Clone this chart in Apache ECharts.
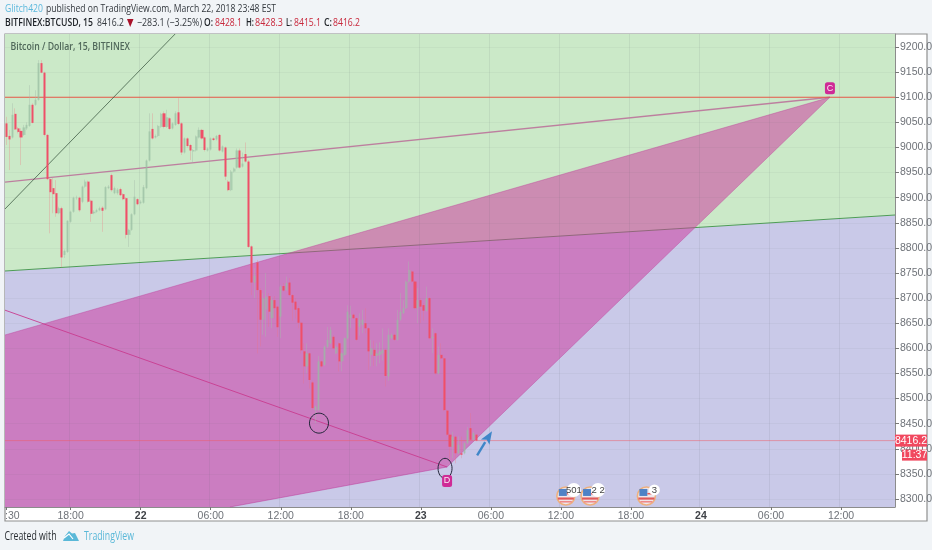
<!DOCTYPE html>
<html><head><meta charset="utf-8">
<style>html,body{margin:0;padding:0;background:#f1f4f7}#c{width:932px;height:550px}</style>
<script src="https://cdn.jsdelivr.net/npm/echarts@6/dist/echarts.min.js"></script>
</head><body><div id="c"></div>
<script>
const opens=[9048,9023,9020,9067,9038,9033,9025,9038,9043,9085,9085,9095,9168,9149,9025,8937,8919,8909,8869,8879,8786,8792,8852,8872,8899,8900,8892,8922,8932,8894,8869,8872,8875,8880,8877,8919,8945,8909,8909,8917,8907,8899,8826,8836,8867,8897,8889,8890,8919,8974,9037,9020,9023,9041,9068,9041,9058,9038,9045,9070,9048,8990,9018,9005,8992,8994,9020,9035,9020,8994,8996,9018,9016,9025,8992,9000,8932,8915,8952,8960,8994,8962,8987,8972,8803,8731,8771,8716,8657,8677,8704,8660,8696,8683,8663,8724,8716,8731,8706,8693,8680,8651,8594,8564,8590,8532,8477,8477,8574,8567,8603,8610,8623,8590,8610,8574,8587,8620,8660,8667,8660,8643,8647,8650,8640,8587,8597,8585,8587,8590,8597,8544,8620,8627,8617,8657,8670,8680,8733,8753,8733,8680,8696,8686,8675,8700,8620,8630,8550,8587,8580,8476,8428,8404,8424,8391,8391,8391,8411,8441,8418,8428.1];
const closes=[9021,9016,9065,9036,9031,9020,9040,9045,9085,9049,9095,9168,9149,9025,8937,8911,8907,8869,8879,8781,8794,8854,8872,8900,8900,8875,8922,8932,8892,8868,8872,8875,8879,8874,8921,8922,8915,8919,8916,8905,8897,8826,8836,8867,8902,8887,8892,8921,8974,9032,9018,9023,9043,9067,9041,9060,9037,9048,9068,9047,8990,9018,9003,8994,8995,9022,9035,9018,8995,8998,9018,9015,9023,8994,9002,8942,8915,8952,8958,8994,8960,8968,8972,8802,8731,8745,8716,8657,8700,8703,8673,8696,8680,8642,8723,8715,8730,8706,8691,8677,8651,8596,8564,8590,8537,8481,8484,8574,8564,8603,8617,8637,8600,8603,8574,8590,8620,8673,8667,8660,8617,8657,8657,8640,8594,8600,8585,8590,8594,8597,8545,8627,8627,8617,8657,8673,8680,8733,8756,8733,8680,8696,8683,8675,8700,8620,8623,8550,8587,8580,8477,8428,8404,8424,8391,8408,8388,8411,8437,8418,8431,8416.2];
const highs=[9061,9035,9088,9078,9041,9038,9045,9050,9124,9088,9114,9174,9174,9151,9027,8939,8939,8935,8882,8882,8797,8855,8874,8902,8904,8902,8924,8936,8934,8896,8875,8878,8882,8883,8923,8925,8948,8922,8919,8920,8909,8901,8838,8869,8935,8899,8895,8925,8976,9068,9068,9026,9045,9069,9072,9075,9060,9050,9072,9098,9050,9020,9020,9007,8997,9024,9040,9037,9022,9000,9020,9020,9025,9027,9004,9002,8935,8955,8960,8998,8998,8990,9010,8975,8805,8760,8776,8720,8710,8750,8710,8702,8704,8685,8726,8730,8743,8740,8708,8700,8684,8653,8610,8610,8592,8535,8486,8585,8576,8606,8643,8643,8626,8606,8612,8592,8622,8686,8685,8669,8662,8670,8677,8680,8642,8617,8615,8610,8612,8640,8599,8640,8630,8629,8677,8710,8696,8735,8773,8755,8735,8720,8700,8690,8723,8702,8640,8632,8604,8610,8582,8478,8430,8434,8426,8425,8424,8413,8444,8471,8434,8428.3];
const lows=[9005,8955,9018,9035,9028,8965,9023,9035,9041,9048,9083,9093,9148,9022,8935,8829,8869,8862,8867,8761,8780,8790,8850,8870,8896,8872,8889,8920,8890,8852,8867,8870,8873,8832,8875,8917,8912,8907,8906,8903,8895,8819,8802,8834,8865,8885,8887,8888,8917,8972,9016,9018,9021,9039,9038,9039,9035,9036,9043,9045,8985,8988,9000,8975,8970,8992,9018,9016,8992,8992,8994,9013,9014,8992,8990,8935,8913,8913,8950,8958,8958,8960,8970,8800,8706,8700,8590,8604,8627,8623,8643,8640,8660,8623,8620,8713,8714,8704,8655,8660,8640,8590,8530,8550,8520,8478,8451,8475,8562,8565,8600,8608,8598,8588,8554,8554,8585,8618,8640,8658,8615,8625,8630,8630,8557,8564,8565,8564,8570,8575,8524,8535,8618,8615,8615,8655,8668,8678,8731,8731,8678,8650,8650,8655,8673,8618,8590,8548,8548,8578,8475,8426,8378,8381,8371,8389,8381,8389,8409,8416,8416,8415.1];

const barCount=305;
const priceTicks=[8300,8350,8400,8450,8500,8550,8600,8650,8700,8750,8800,8850,8900,8950,9000,9050,9100,9150,9200];
const priceMin=8284, priceMax=9226;
const xL=-0.5, xR=barCount-0.5;
const lastPrice=8416.2;

const greenZone=[[xL,priceMax],[xR,priceMax],[xR,8865.5],[xL,8754]];
const blueZone=[[xL,8754],[xR,8865.5],[xR,priceMin],[xL,priceMin]];
const pointC=[282.2,9100];
const pointD=[151,8363.7];
const patternZone=[pointC,pointD,[76.6,priceMin],[xL,priceMin],[xL,8626.6]];
const greenLine=[[xL,8754],[xR,8865.5]];
const redLine=[[xL,9100],[xR,9100]];
const mauveLine=[[xL,8931],pointC];
const blackLine=[[xL,8877.5],[57.8,priceMax]];
const xbLine=[[xL,8676],pointD];
const edgeTop=[[xL,8626.6],pointC];
const edgeRight=[pointC,pointD];
const edgeBottom=[pointD,[76.6,priceMin]];
const lastLine=[[xL,lastPrice],[xR,lastPrice]];
const circles=[[107.1,8451,9.5,10],[150.3,8361,7,10]];
const arrowFrom=[161.3,8387];
const arrowTo=[166.4,8435];
const events=[[191.7,8306,'501'],[200,8306,'2 2'],[219.3,8306,'3']];

const categories=[];
for(let i=0;i<barCount;i++){
  const m=(12*60+30+15*i);
  const dayOff=Math.floor(m/1440), mm=m%1440;
  const hh=Math.floor(mm/60), mi=mm%60;
  categories.push(mm===0?String(21+dayOff):String(hh).padStart(2,'0')+':'+String(mi).padStart(2,'0'));
}
const isTick=i=>(i%24)===22;

const candles=opens.map((o,i)=>[o,closes[i],lows[i],highs[i]]);
const bodies=opens.map((o,i)=>[o,closes[i],Math.min(o,closes[i]),Math.max(o,closes[i])]);

function lineSeries(pts,color,width,z){
  return {type:'line',xAxisIndex:1,data:pts,symbol:'none',silent:true,z:z||4,
    lineStyle:{color:color,width:width},animation:false};
}
function zone(pts,fill,z){
  return {type:'custom',xAxisIndex:1,data:[[0]],silent:true,z:z,
    renderItem:function(p,api){
      return {type:'polygon',shape:{points:pts.map(q=>api.coord(q))},style:{fill:fill}};
    }};
}
const chart=echarts.init(document.getElementById('c'),null,{renderer:'canvas',width:932,height:550});
const hdr='"Open Sans",sans-serif';
const narrow='"Liberation Sans Narrow","Liberation Sans",sans-serif';
const mctx=document.createElement('canvas').getContext('2d');
function txt(x,y,t,fill,size,weight,w){
  const font=(weight||'normal')+' '+size+'px '+hdr;
  mctx.font=font;
  const sx=w/mctx.measureText(t).width;
  return {type:'text',x:x,y:y,scaleX:sx,z:20,silent:true,style:{text:t,fill:fill,font:font,textVerticalAlign:'middle'}};
}
const RED='#c8283c', INK='#33383e', BOLD='#1d2126';
chart.setOption({
  animation:false,
  backgroundColor:'#f1f4f7',
  grid:{left:5,top:34,width:890,height:473,containLabel:false,outerBoundsMode:'none'},
  xAxis:[{type:'category',data:categories,boundaryGap:true,z:3,
      axisLine:{show:true,lineStyle:{color:'#8c8c8c',width:1}},
      axisTick:{show:true,length:3,interval:(i)=>isTick(i)||i===0,lineStyle:{color:'#777'},alignWithLabel:true},
      axisLabel:{color:'#6e7278',fontSize:10.5,fontFamily:narrow,margin:4,
        interval:(i)=>isTick(i)||i===2,
        formatter:(v,i)=>i===2?':30':(v.indexOf(':')<0?'{d|'+v+'}':v),
        rich:{d:{fontWeight:'bold',color:'#3f4247',fontSize:10.5,fontFamily:narrow}}},
      splitLine:{show:true,interval:(i)=>isTick(i),lineStyle:{color:'rgba(90,100,110,0.1)',width:1}}},
    {type:'value',min:xL,max:xR,show:false}],
  yAxis:{type:'value',position:'right',min:priceMin,max:priceMax,z:3,
    axisLine:{show:true,onZero:false,lineStyle:{color:'#8c8c8c',width:1}},
    axisTick:{show:true,length:4,customValues:priceTicks,lineStyle:{color:'#777'}},
    axisLabel:{color:'#6e7278',fontSize:10.5,fontFamily:narrow,margin:5,customValues:priceTicks,
      formatter:v=>v.toFixed(1)},
    splitLine:{show:true,lineStyle:{color:'rgba(90,100,110,0.06)',width:1}}},
  graphic:{elements:[
    {type:'rect',z:-10,silent:true,shape:{x:5,y:34,width:922,height:487},style:{fill:'#fff',stroke:'#8f8f8f',lineWidth:1.2}},
    txt(5,9,'Glitch420','#5cb9dc',11.5,'normal',38),
    txt(46,9,'published on TradingView.com, March 22, 2018 23:48 EST',INK,11.5,'normal',230),
    txt(5,23,'BITFINEX:BTCUSD, 15',BOLD,11,'600',88),
    txt(97,23,'8416.2',INK,11,'normal',27),
    {type:'polygon',z:20,silent:true,shape:{points:[[127,19],[133.5,19],[130.2,27]]},style:{fill:'#a9122a'}},
    txt(137,23,'\u2212283.1 (\u22123.25%)',INK,11,'normal',65),
    txt(204,23,'O:',BOLD,11,'600',9),txt(215,23,'8428.1',RED,11,'normal',27),
    txt(246,23,'H:',BOLD,11,'600',8),txt(255,23,'8428.3',RED,11,'normal',28),
    txt(286,23,'L:',BOLD,11,'600',6),txt(294,23,'8415.1',RED,11,'normal',27),
    txt(324,23,'C:',BOLD,11,'600',8),txt(333,23,'8416.2',RED,11,'normal',27),
    txt(10.5,47,'Bitcoin / Dollar, 15, BITFINEX','#50685a',11,'600',119.5),
    txt(4.5,537,'Created with','#2a2e33',12,'normal',52),
    {type:'polygon',z:20,silent:true,shape:{points:[[63,541],[65,536],[69,531],[72,533.5],[75,533],[79,541]]},style:{fill:'#5ab8d8'}},
    {type:'polyline',z:21,silent:true,shape:{points:[[64,538],[69,534],[73,539]]},style:{stroke:'#fff',fill:null,lineWidth:1.2}},
    txt(84,537,'TradingView','#5ab8d8',12,'normal',50)
  ]},
  series:[
    zone(greenZone,'#cbe9c8',1),
    zone(blueZone,'#c9c9e8',1),
    lineSeries(greenLine,'#4d9d55',1,1),
    zone(patternZone,'rgba(205,55,158,0.52)',2),
    {type:'candlestick',data:candles,barWidth:1,z:4,silent:true,
      itemStyle:{color:'rgba(150,185,160,0.2)',color0:'rgba(245,90,110,0.2)',borderColor:'rgba(165,185,170,0.4)',borderColor0:'rgba(245,110,125,0.28)',borderWidth:1}},
    lineSeries(mauveLine,'#bd7f9f',1.3),
    lineSeries(redLine,'#e85a48',1.1),
    lineSeries(blackLine,'#2e4a35',0.7),
    lineSeries(xbLine,'#c83c90',0.9),
    lineSeries(edgeTop,'rgba(188,60,150,0.5)',0.8),
    lineSeries(edgeRight,'rgba(188,60,150,0.5)',0.8),
    lineSeries(edgeBottom,'rgba(188,50,150,0.6)',0.8),
    lineSeries(lastLine,'rgba(240,90,100,0.5)',1),
    {type:'candlestick',data:bodies,barWidth:2.6,z:5,silent:true,
      itemStyle:{color:'rgba(150,190,160,0.6)',color0:'#ef4f68',borderColor:'rgba(150,190,160,0.6)',borderColor0:'#ef4f68',borderWidth:0}},
    {type:'custom',xAxisIndex:1,data:circles.map((c,i)=>[i]),silent:true,z:6,
      renderItem:function(p,api){const c=circles[p.dataIndex];const q=api.coord([c[0],c[1]]);
        return {type:'ellipse',shape:{cx:q[0],cy:q[1],rx:c[2],ry:c[3]},style:{fill:null,stroke:'#23263a',lineWidth:1}};}},
    {type:'custom',xAxisIndex:1,data:[[0]],silent:true,z:6,
      renderItem:function(p,api){const a=api.coord(arrowFrom),b=api.coord(arrowTo);
        const dx=b[0]-a[0],dy=b[1]-a[1],L=Math.hypot(dx,dy),ux=dx/L,uy=dy/L,nx=-uy,ny=ux;
        const base=[b[0]-ux*13,b[1]-uy*13];
        return {type:'group',children:[
          {type:'line',shape:{x1:a[0],y1:a[1],x2:base[0],y2:base[1]},style:{stroke:'#3f86c8',lineWidth:2.4}},
          {type:'polygon',shape:{points:[b,[base[0]+nx*5,base[1]+ny*5],[base[0]+ux*3,base[1]+uy*3],[base[0]-nx*5,base[1]-ny*5]]},style:{fill:'#3f86c8'}}]};}},
    {type:'custom',xAxisIndex:1,data:[[0],[1]],silent:true,z:7,
      renderItem:function(p,api){
        const tag=p.dataIndex===0?{pt:pointC,t:'C',dy:-9}:{pt:pointD,t:'D',dy:14};
        const q=api.coord(tag.pt);
        return {type:'group',children:[
          {type:'rect',shape:{x:q[0]-5,y:q[1]+tag.dy-6,width:10,height:12,r:2.5},style:{fill:'#cf2a96'}},
          {type:'text',style:{text:tag.t,x:q[0],y:q[1]+tag.dy,fill:'#fbe6f3',font:'9px Liberation Sans',textAlign:'center',textVerticalAlign:'middle'}}]};}},
    {type:'custom',xAxisIndex:1,data:events.map((e,i)=>[i]),silent:true,z:7,
      renderItem:function(p,api){const e=events[p.dataIndex];const q=api.coord([e[0],e[1]]);const x=q[0],y=q[1];
        return {type:'group',children:[
          {type:'circle',shape:{cx:x,cy:y,r:9},style:{fill:'#efe6ea',stroke:'#eeb07e',lineWidth:1.6}},
          {type:'rect',shape:{x:x-7,y:y-7,width:8,height:7},style:{fill:'#4f82c6'}},
          {type:'rect',shape:{x:x+1,y:y-3,width:7,height:1.5},style:{fill:'#e25a5a'}},
          {type:'rect',shape:{x:x-8,y:y+1.5,width:16,height:2.2},style:{fill:'#e25a5a'}},
          {type:'rect',shape:{x:x-6,y:y+5,width:12,height:1.6},style:{fill:'#e88'}},
          {type:'circle',shape:{cx:x+8,cy:y-6,r:e[2].length>1?7:5.5},style:{fill:'#fff'}},
          {type:'text',style:{text:e[2],x:x+8,y:y-6,fill:'#444',font:'9.5px '+narrow,textAlign:'center',textVerticalAlign:'middle'}}]};}},
    {type:'custom',xAxisIndex:1,data:[[0],[1]],silent:true,z:8,clip:false,
      renderItem:function(p,api){
        const q=api.coord([xR,lastPrice]);
        const r=p.dataIndex===0?{x:q[0],y:q[1]-6,w:32,h:12,t:'8416.2'}:{x:q[0]+7,y:q[1]+9,w:25,h:11,t:'11:37'};
        return {type:'group',children:[
          {type:'rect',shape:{x:r.x,y:r.y,width:r.w,height:r.h},style:{fill:'#f1485f'}},
          {type:'text',style:{text:r.t,x:r.x+r.w/2,y:r.y+r.h/2,fill:'#fff',font:'10.5px '+narrow,textAlign:'center',textVerticalAlign:'middle'}}]};}}
  ]
});
</script></body></html>
